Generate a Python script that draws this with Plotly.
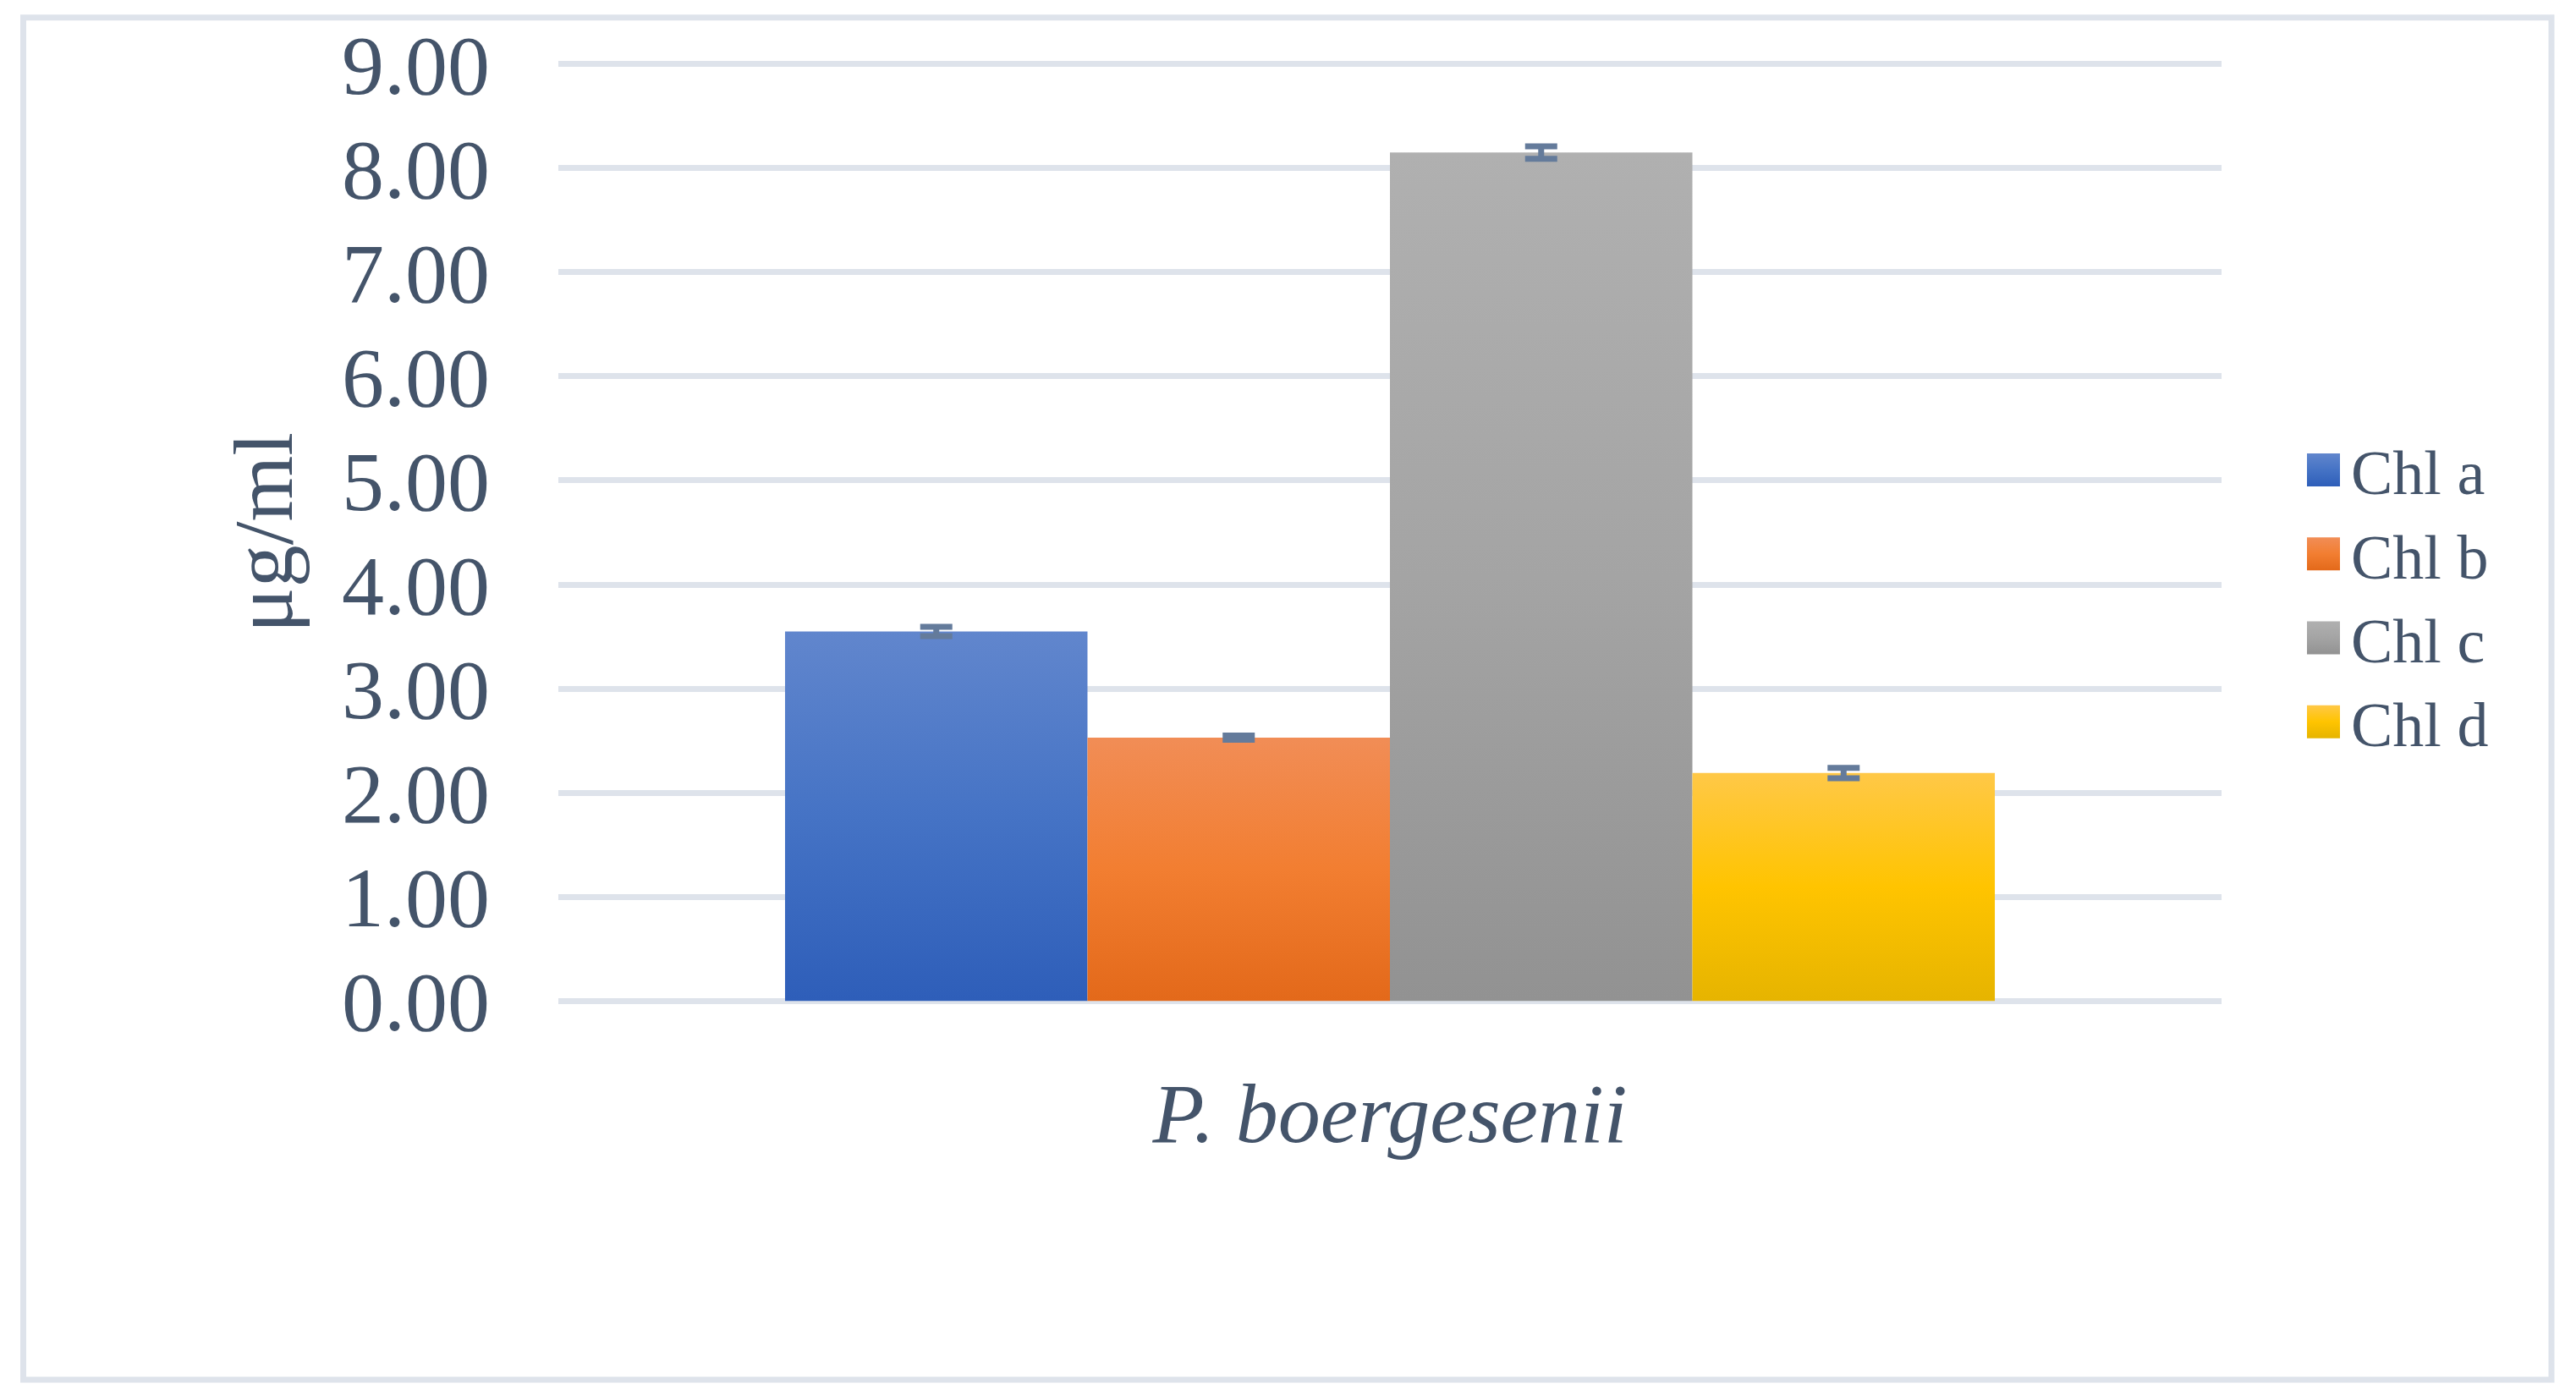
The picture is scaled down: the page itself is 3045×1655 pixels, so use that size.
import json
import plotly.graph_objects as go

# ---------------- data ----------------
category = ["P. boergesenii"]
series_names = ["Chl a", "Chl b", "Chl c", "Chl d"]
chl_a = [3.55]
chl_b = [2.53]
chl_c = [8.15]
chl_d = [2.19]
err_a = [0.045]
err_b = [0.02]
err_c = [0.06]
err_d = [0.05]
y_tickvals = [0, 1, 2, 3, 4, 5, 6, 7, 8, 9]
y_ticktext = ["0.00", "1.00", "2.00", "3.00", "4.00", "5.00", "6.00", "7.00", "8.00", "9.00"]
y_title = "μg/ml"

# ---------------- styles ----------------
W, H = 3045, 1655
PAD = 0.03                      # small range padding so the 0 and 9 gridlines are drawn
UNIT = 123.0                    # px per y unit
Y0_PX, Y9_PX = 1183, 76
PLOT_L, PLOT_R = 660, 2626
PLOT_T = Y9_PX - PAD * UNIT
PLOT_B = Y0_PX + PAD * UNIT
TEXT = "#44546A"
GRID = "#DEE3EB"
ERR = "#647B9B"
FONT = "Liberation Serif, Times New Roman, serif"
solid = ["#4A77C6", "#EE7E35", "#A3A3A3", "#FCBF12"]
gradients = [
    [[0, "#6186CD"], [0.5, "#4573C5"], [1, "#2E5EB9"]],
    [[0, "#F18D56"], [0.5, "#F27E31"], [1, "#E3691A"]],
    [[0, "#B0B0B0"], [0.5, "#A4A4A4"], [1, "#929292"]],
    [[0, "#FFC847"], [0.5, "#FFC400"], [1, "#E6B400"]],
]

values = [chl_a, chl_b, chl_c, chl_d]
errors = [err_a, err_b, err_c, err_d]

fig = go.Figure()
for name, vals, errs, col in zip(series_names, values, errors, solid):
    fig.add_trace(go.Bar(
        name=name, x=category, y=vals,
        marker=dict(color=col, line=dict(width=0)),
        error_y=dict(type="data", array=errs, visible=True,
                     color=ERR, thickness=7, width=19),
    ))

pw = PLOT_R - PLOT_L
ph = PLOT_B - PLOT_T

def px_to_paper_x(px):
    return (px - PLOT_L) / pw

def px_to_paper_y(py):
    return (PLOT_B - py) / ph

# outer frame
fig.add_shape(type="rect", xref="paper", yref="paper",
              x0=px_to_paper_x(27.5), x1=px_to_paper_x(3016),
              y0=px_to_paper_y(1630.5), y1=px_to_paper_y(21),
              line=dict(color=GRID, width=7), fillcolor="rgba(0,0,0,0)",
              layer="below")

fig.update_layout(
    width=W, height=H,
    margin=dict(l=PLOT_L, r=W - PLOT_R, t=PLOT_T, b=H - PLOT_B, pad=0),
    paper_bgcolor="white", plot_bgcolor="white",
    barmode="group", bargap=0.2726, bargroupgap=0,
    font=dict(family=FONT, color=TEXT),
    showlegend=True,
    legend=dict(
        xref="container", yref="container",
        x=(2741.5 - 27.5) / W, xanchor="left",
        y=1 - 704.5 / H, yanchor="middle",
        font=dict(family=FONT, size=74, color=TEXT),
        itemwidth=55, tracegroupgap=0,
        bgcolor="rgba(0,0,0,0)", borderwidth=0,
        traceorder="normal",
    ),
    xaxis=dict(
        type="category", showgrid=False, zeroline=False, showline=False,
        ticks="", ticklabelstandoff=62,
        tickfont=dict(family=FONT, size=100, color=TEXT, style="italic"),
    ),
    yaxis=dict(
        range=[-PAD, 9 + PAD], tickvals=y_tickvals, ticktext=y_ticktext,
        showgrid=True, gridcolor=GRID, gridwidth=7,
        zeroline=False, showline=False, ticks="",
        ticklabelstandoff=80,
        tickfont=dict(family=FONT, size=100, color=TEXT),
        title=dict(text=y_title, font=dict(family=FONT, size=100, color=TEXT), standoff=25),
    ),
)

post = """
document.documentElement.style.margin = '0';
document.body.style.margin = '0';
document.body.style.overflow = 'hidden';
var gd = document.getElementById('{plot_id}');
var ns = 'http://www.w3.org/2000/svg';
var grads = GRADS;
function ensureDefs() {
  var svg = gd.querySelector('svg.main-svg');
  var defs = svg.querySelector('defs');
  if (!defs) { defs = document.createElementNS(ns, 'defs'); svg.insertBefore(defs, svg.firstChild); }
  if (!document.getElementById('bargrad0')) {
    grads.forEach(function(g, i) {
      var lg = document.createElementNS(ns, 'linearGradient');
      lg.setAttribute('id', 'bargrad' + i);
      lg.setAttribute('x1', '0'); lg.setAttribute('y1', '0');
      lg.setAttribute('x2', '0'); lg.setAttribute('y2', '1');
      g.forEach(function(s) {
        var st = document.createElementNS(ns, 'stop');
        st.setAttribute('offset', s[0]);
        st.setAttribute('stop-color', s[1]);
        lg.appendChild(st);
      });
      defs.appendChild(lg);
    });
  }
}
function restyleMarks() {
  ensureDefs();
  gd.querySelectorAll('.barlayer .trace.bars').forEach(function(t, i) {
    t.querySelectorAll('.point path').forEach(function(p) { p.style.fill = 'url(#bargrad' + i + ')'; });
  });
  gd.querySelectorAll('.legend g.traces').forEach(function(t, i) {
    t.querySelectorAll('.legendpoints path').forEach(function(p) {
      p.setAttribute('d', 'M19.5,19.5H-19.5V-19.5H19.5Z');
      p.style.fill = 'url(#bargrad' + i + ')';
    });
  });
}
restyleMarks();
setTimeout(restyleMarks, 50);
setTimeout(restyleMarks, 300);
gd.on('plotly_afterplot', restyleMarks);
""".replace("GRADS", json.dumps(gradients))

fig.write_html("out.html", config={"displayModeBar": False}, post_script=post)
